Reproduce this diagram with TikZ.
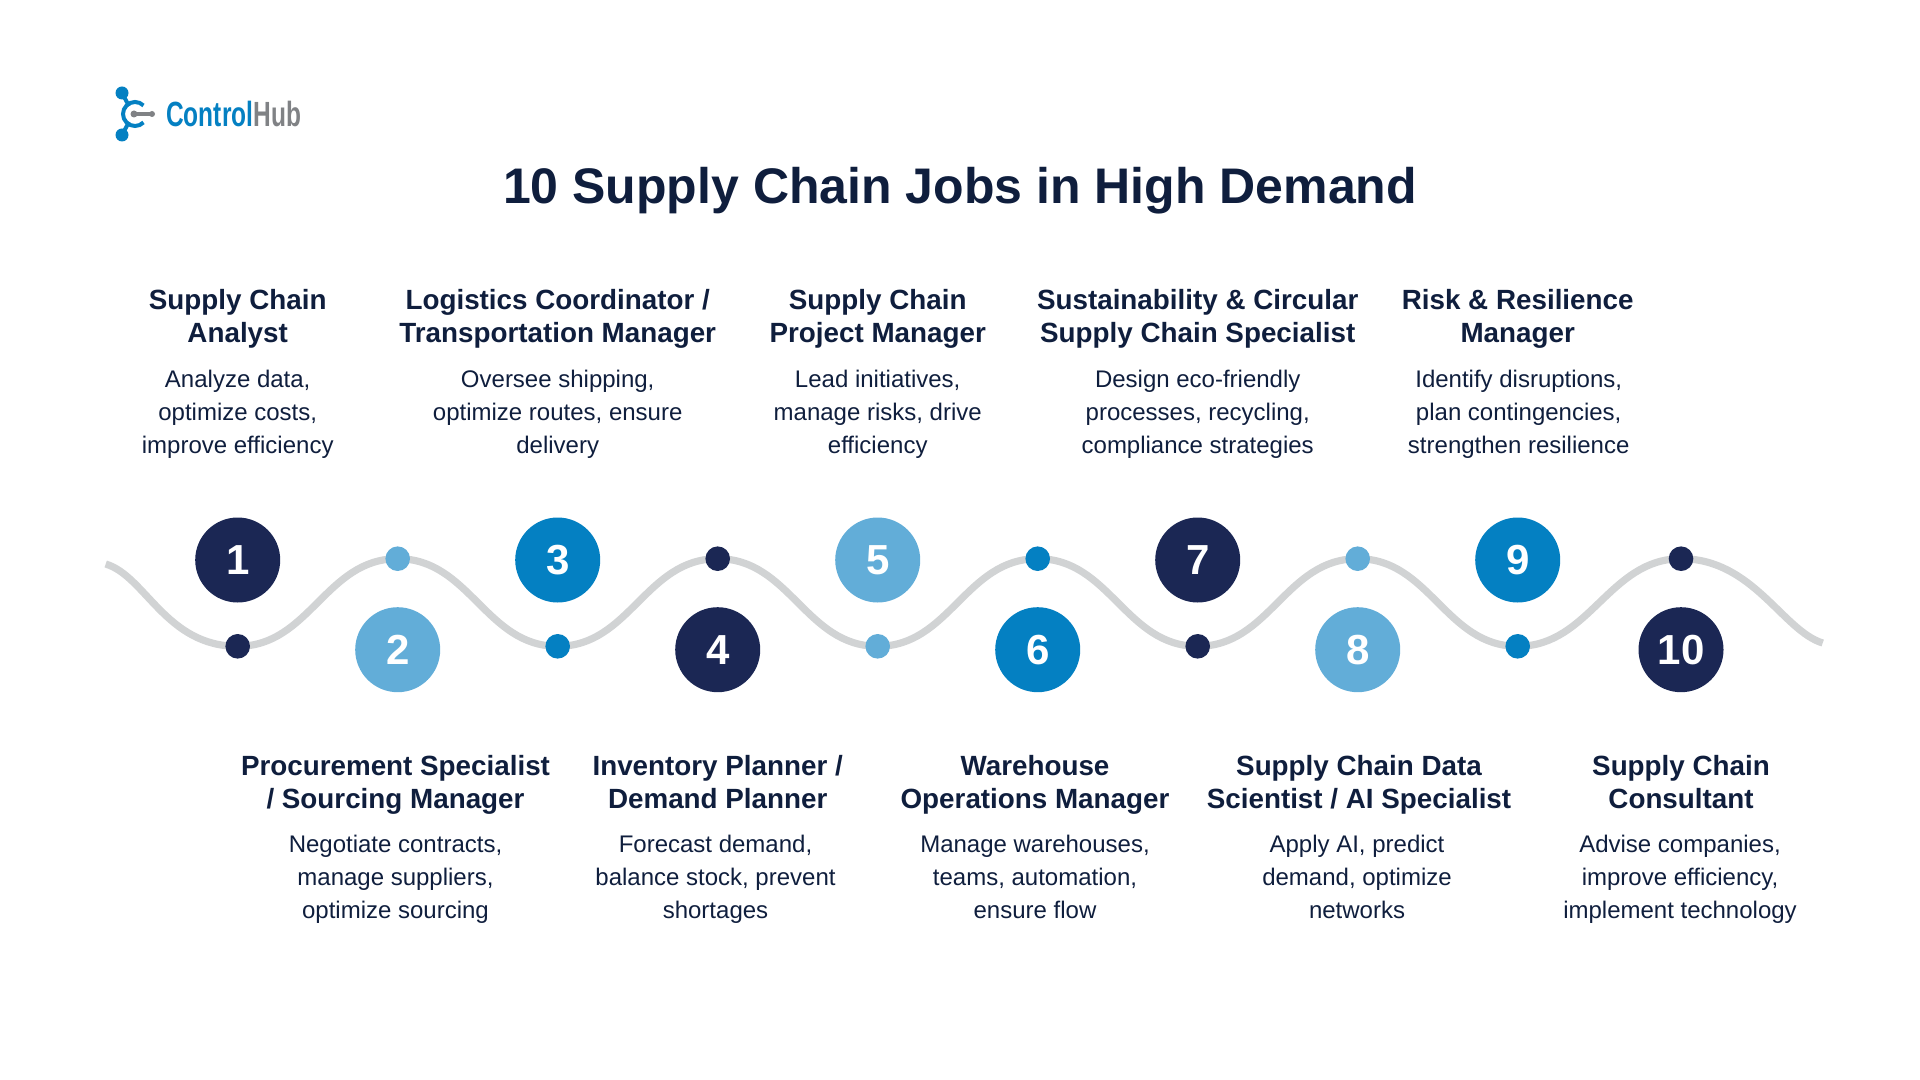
\documentclass[tikz,border=0pt]{standalone}
\usepackage{fontspec}
\setmainfont{Liberation Sans}
\definecolor{HubNavy}{HTML}{1B2754}
\definecolor{HubBlue}{HTML}{0480C2}
\definecolor{HubLight}{HTML}{62ADD8}
\definecolor{HubGrey}{HTML}{808285}
\definecolor{WaveGrey}{HTML}{D1D3D4}
\definecolor{TitleInk}{HTML}{0F1E3D}
\usetikzlibrary{backgrounds}
\tikzset{
    bignum/.style={circle, minimum size=42.5pt, inner sep=0pt, text=white, font=\fontsize{21}{21}\selectfont\bfseries},
    dotmark/.style={circle, minimum size=12.3pt, inner sep=0pt},
    jobtitle/.style={anchor=north, align=center, inner sep=0pt, text=TitleInk, font=\fontsize{13.9}{16.5}\selectfont\bfseries},
    jobtext/.style={anchor=north, align=center, inner sep=0pt, text=TitleInk, font=\fontsize{12}{16.5}\selectfont}
}

\begin{document}
\begin{tikzpicture}[x=.5pt, y=-.5pt]
    \useasboundingbox (0,0) rectangle (1920,1080);

    % logo
    \draw[HubBlue, line width=2pt] (122,93) -- (129,106) (122,135) -- (129,122);
    \draw[HubBlue, line width=2pt] (143.5,105.5) arc (-45:-315:12);
    \fill[HubBlue] (122,93) circle (6.5) (122,135) circle (6.5);
    \draw[HubGrey, line width=2pt] (134,114) -- (152,114);
    \fill[HubGrey] (134,114) circle (3.5) (152,114) circle (3);
    \node[anchor=west, inner sep=0pt, font=\fontsize{17.5}{17.5}\selectfont\bfseries, xscale=.7] (logo) at (166,114) {\textcolor{HubBlue}{Control}\textcolor{HubGrey}{Hub}};

    \node[inner sep=0pt, text=TitleInk, font=\fontsize{25}{25}\selectfont\bfseries] (heading) at (960,191) {10 Supply Chain Jobs in High Demand};

    % numbers and dots on the wave
    \foreach \n/\x/\bigy/\doty/\col in {1/237.7/560/646.3/HubNavy, 2/397.7/649.7/558.7/HubLight, 3/557.7/560/646.3/HubBlue, 4/717.7/649.7/558.7/HubNavy, 5/877.7/560/646.3/HubLight, 6/1037.7/649.7/558.7/HubBlue, 7/1197.7/560/646.3/HubNavy, 8/1357.7/649.7/558.7/HubLight, 9/1517.7/560/646.3/HubBlue, 10/1681/649.7/558.7/HubNavy}{
        \node[bignum, fill=\col] (num\n) at (\x,\bigy) {\n};
        \node[dotmark, fill=\col] (dot\n) at (\x,\doty) {};
    }
    \coordinate (waveL) at (105.7,564);
    \coordinate (waveR) at (1822.7,643);
    \begin{scope}[on background layer]
        \draw[WaveGrey, line width=3.6pt] (waveL) .. controls +(40,12) and +(-72,0) .. (dot1.center)
            \foreach \a/\b in {1/2, 2/3, 3/4, 4/5, 5/6, 6/7, 7/8, 8/9, 9/10}{ .. controls +(72,0) and +(-72,0) .. (dot\b.center)}
            .. controls +(72,0) and +(-40,-12) .. (waveR);
    \end{scope}

    % upper row
    \node[jobtitle] (title1) at (237.7,289) {Supply Chain\\Analyst};
    \node[jobtext] (text1) at (237.7,370) {Analyze data,\\optimize costs,\\improve efficiency};
    \node[jobtitle] (title3) at (557.7,289) {Logistics Coordinator /\\Transportation Manager};
    \node[jobtext] (text3) at (557.7,370) {Oversee shipping,\\optimize routes, ensure\\delivery};
    \node[jobtitle] (title5) at (877.7,289) {Supply Chain\\Project Manager};
    \node[jobtext] (text5) at (877.7,370) {Lead initiatives,\\manage risks, drive\\efficiency};
    \node[jobtitle] (title7) at (1197.7,289) {Sustainability \& Circular\\Supply Chain Specialist};
    \node[jobtext] (text7) at (1197.7,370) {Design eco-friendly\\processes, recycling,\\compliance strategies};
    \node[jobtitle] (title9) at (1517.7,289) {Risk \& Resilience\\Manager};
    \node[jobtext] (text9) at (1518.7,370) {Identify disruptions,\\plan contingencies,\\strengthen resilience};

    % lower row
    \node[jobtitle] (title2) at (395.5,755) {Procurement Specialist\\/ Sourcing Manager};
    \node[jobtext] (text2) at (395.5,835) {Negotiate contracts,\\manage suppliers,\\optimize sourcing};
    \node[jobtitle] (title4) at (717.7,755) {Inventory Planner /\\Demand Planner};
    \node[jobtext] (text4) at (715.5,835) {Forecast demand,\\balance stock, prevent\\shortages};
    \node[jobtitle] (title6) at (1035,755) {Warehouse\\Operations Manager};
    \node[jobtext] (text6) at (1035,835) {Manage warehouses,\\teams, automation,\\ensure flow};
    \node[jobtitle] (title8) at (1359,755) {Supply Chain Data\\Scientist / AI Specialist};
    \node[jobtext] (text8) at (1357,835) {Apply AI, predict\\demand, optimize\\networks};
    \node[jobtitle] (title10) at (1681,755) {Supply Chain\\Consultant};
    \node[jobtext] (text10) at (1680,835) {Advise companies,\\improve efficiency,\\implement technology};
\end{tikzpicture}
\end{document}
